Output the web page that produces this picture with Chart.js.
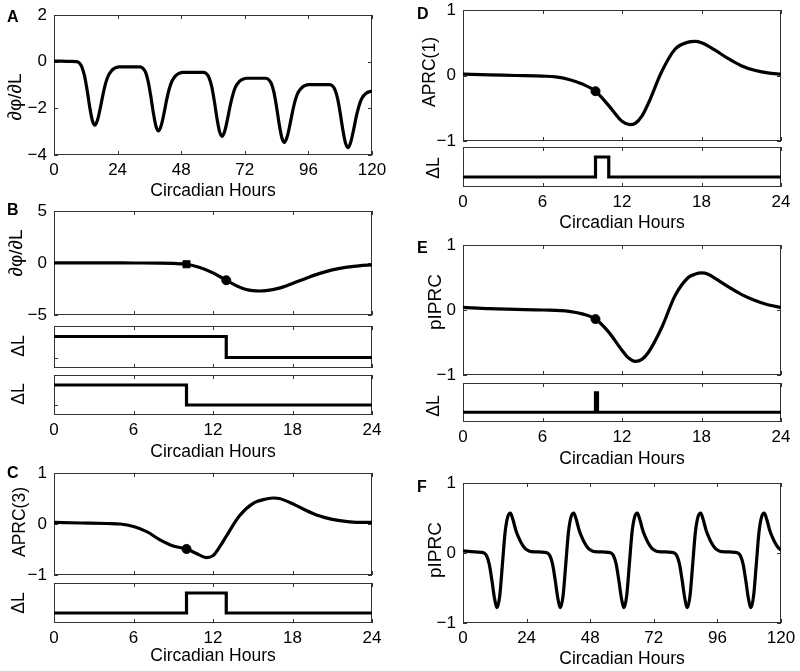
<!DOCTYPE html>
<html>
<head>
<meta charset="utf-8">
<script src="https://cdn.jsdelivr.net/npm/chart.js@4"></script>
<style>
  body { margin: 0; background: #fff; }
  #fig { position: relative; width: 800px; height: 671px; overflow: hidden; background: #fff; }
  #fig canvas { position: absolute; }
  .lbl { position: absolute; font-family: "Liberation Sans", Arial, Helvetica, sans-serif; color: #000; white-space: nowrap; line-height: 1; }
  .letter { font-weight: bold; font-size: 16px; }
  .xt { font-size: 17.5px; transform: translateX(-50%); }
  .yt { font-size: 17.5px; transform: translate(-50%, -50%) rotate(-90deg); }
  .big { font-size: 19px; }
</style>
</head>
<body>
<div id="fig"></div>
<script>
// ---- data ----
// A: dphi/dL over five circadian days
const aHours = [0, 3, 6, 8.5, 9.5, 10.5, 11.5, 12.5, 13.5, 14.5, 15.5, 16.5, 17.5, 18.5, 19.5, 20.5, 21.5, 22.5, 23.5, 24.5, 28.5, 32.5,
  33.5, 34.5, 35.5, 36.5, 37.5, 38.5, 39.5, 40.5, 41.5, 42.5, 43.5, 44.5, 45.5, 46.5, 47.5, 48.5, 52.5, 56.5,
  57.5, 58.5, 59.5, 60.5, 61.5, 62.5, 63.5, 64.5, 65.5, 66.5, 67.5, 68.5, 69.5, 70.5, 71.5, 72.5, 76, 80,
  81, 82, 83, 84, 85, 86, 87, 88, 89, 90, 91, 92, 93, 94, 95, 96, 100, 104,
  105, 106, 107, 108, 109, 110, 111, 112, 113, 114, 115, 116, 117, 118, 119, 120];
const aValues = [0.02, 0.02, 0.01, 0, -0.05, -0.22, -0.6, -1.22, -1.96, -2.53, -2.72, -2.47, -1.97, -1.4, -0.92, -0.6, -0.42, -0.31, -0.25, -0.22, -0.22, -0.22,
  -0.28, -0.44, -0.83, -1.46, -2.2, -2.78, -2.97, -2.72, -2.22, -1.64, -1.16, -0.84, -0.66, -0.55, -0.49, -0.46, -0.46, -0.46,
  -0.51, -0.68, -1.06, -1.69, -2.43, -3.01, -3.2, -2.95, -2.45, -1.88, -1.41, -1.08, -0.91, -0.8, -0.74, -0.71, -0.71, -0.71,
  -0.77, -0.93, -1.32, -1.95, -2.69, -3.27, -3.46, -3.21, -2.72, -2.15, -1.67, -1.35, -1.18, -1.07, -1.01, -0.98, -0.98, -0.98,
  -1.03, -1.2, -1.57, -2.2, -2.92, -3.49, -3.68, -3.44, -2.95, -2.39, -1.93, -1.61, -1.44, -1.34, -1.29, -1.26];

// B: dphi/dL over one day, with the two light steps below it
const bHours = [0, 2, 4, 6, 8, 9, 10, 11, 12, 13, 14, 14.5, 15, 15.5, 16, 17, 18, 19, 20, 21, 22, 23, 24];
const bValues = [0.01, 0.01, 0.01, 0, -0.01, -0.04, -0.12, -0.44, -0.95, -1.66, -2.32, -2.55, -2.66, -2.69, -2.66, -2.42, -1.97, -1.48, -1.02, -0.66, -0.42, -0.27, -0.18];
const bSquareHour = [10];
const bSquareValue = [-0.12];
const bDotHour = [13];
const bDotValue = [-1.66];
const b1Hours = [0, 13, 13, 24];
const b1Level = [1, 1, 0, 0];
const b2Hours = [0, 10, 10, 24];
const b2Level = [1, 1, 0, 0];

// C: APRC(3) and a 3 h pulse
const cHours = [0, 2, 4, 5, 6, 7, 8, 9, 10, 11, 11.5, 12, 12.5, 13, 14, 15, 16, 16.6, 17, 18, 19, 20, 21, 22, 23, 24];
const cValues = [0.03, 0.02, 0.01, 0, -0.05, -0.15, -0.31, -0.43, -0.49, -0.61, -0.66, -0.62, -0.45, -0.24, 0.16, 0.4, 0.49, 0.51, 0.5, 0.4, 0.27, 0.16, 0.09, 0.05, 0.03, 0.03];
const cDotHour = [10];
const cDotValue = [-0.49];
const c1Hours = [0, 10, 10, 13, 13, 24];
const c1Level = [0, 0, 1, 1, 0, 0];

// D: APRC(1) and a 1 h pulse
const dHours = [0, 2, 4, 6, 7, 8, 9, 10, 11, 12, 12.6, 13, 13.5, 14, 15, 16, 17, 17.5, 18, 19, 20, 21, 22, 23, 24];
const dValues = [0.02, 0.01, 0, -0.01, -0.02, -0.06, -0.13, -0.24, -0.46, -0.7, -0.75, -0.73, -0.62, -0.42, 0.06, 0.4, 0.51, 0.52, 0.5, 0.39, 0.26, 0.15, 0.08, 0.04, 0.02];
const dDotHour = [10];
const dDotValue = [-0.24];
const d1Hours = [0, 10, 10, 11, 11, 24];
const d1Level = [0, 0, 1, 1, 0, 0];

// E: pIPRC and an impulse
const eHours = [0, 2, 4, 6, 8, 9, 10, 11, 12, 12.5, 13, 13.5, 14, 15, 16, 17, 17.5, 18, 18.5, 19, 20, 21, 22, 23, 24];
const eValues = [0.04, 0.02, 0.01, 0, -0.02, -0.06, -0.14, -0.34, -0.62, -0.74, -0.79, -0.76, -0.65, -0.27, 0.22, 0.5, 0.55, 0.57, 0.55, 0.49, 0.36, 0.24, 0.15, 0.08, 0.04];
const eDotHour = [10];
const eDotValue = [-0.14];
const e1Hours = [0, 10, 10, 10.15, 10.15, 24];
const e1Level = [0, 0, 1, 1, 0, 0];

// F: pIPRC over five days
const fHours = [0, 3,
  6.9, 7.9, 8.9, 9.9, 10.9, 11.9, 12.9, 13.9, 14.9, 15.9, 16.9, 17.9, 18.9, 19.9, 20.9, 21.9, 22.9, 23.9, 24.9, 25.9,
  30.8, 31.8, 32.8, 33.8, 34.8, 35.8, 36.8, 37.8, 38.8, 39.8, 40.8, 41.8, 42.8, 43.8, 44.8, 45.8, 46.8, 47.8, 48.8, 49.8,
  54.8, 55.8, 56.8, 57.8, 58.8, 59.8, 60.8, 61.8, 62.8, 63.8, 64.8, 65.8, 66.8, 67.8, 68.8, 69.8, 70.8, 71.8, 72.8, 73.8,
  78.7, 79.7, 80.7, 81.7, 82.7, 83.7, 84.7, 85.7, 86.7, 87.7, 88.7, 89.7, 90.7, 91.7, 92.7, 93.7, 94.7, 95.7, 96.7, 97.7,
  102.7, 103.7, 104.7, 105.7, 106.7, 107.7, 108.7, 109.7, 110.7, 111.7, 112.7, 113.7, 114.7, 115.7, 116.7, 117.7, 118.7, 119.7, 120];
const fValues = [0.03, 0.02,
  0.01, 0, -0.04, -0.16, -0.39, -0.65, -0.78, -0.6, -0.15, 0.3, 0.52, 0.57, 0.47, 0.33, 0.23, 0.15, 0.09, 0.05, 0.03, 0.02,
  0.01, 0, -0.04, -0.16, -0.39, -0.65, -0.78, -0.6, -0.15, 0.3, 0.52, 0.57, 0.47, 0.33, 0.23, 0.15, 0.09, 0.05, 0.03, 0.02,
  0.01, 0, -0.04, -0.16, -0.39, -0.65, -0.78, -0.6, -0.15, 0.3, 0.52, 0.57, 0.47, 0.33, 0.23, 0.15, 0.09, 0.05, 0.03, 0.02,
  0.01, 0, -0.04, -0.16, -0.39, -0.65, -0.78, -0.6, -0.15, 0.3, 0.52, 0.57, 0.47, 0.33, 0.23, 0.15, 0.09, 0.05, 0.03, 0.02,
  0.01, 0, -0.04, -0.16, -0.39, -0.65, -0.78, -0.6, -0.15, 0.3, 0.52, 0.57, 0.47, 0.33, 0.23, 0.15, 0.09, 0.05, 0.045];

const dayTicks = 6;    // 0..24
const weekTicks = 24;  // 0..120

// ---- drawing ----
const fig = document.getElementById('fig');
const fontFamily = '"Liberation Sans", Arial, Helvetica, sans-serif';

function pts(xs, ys) { return xs.map((x, i) => ({ x: x, y: ys[i] })); }
function minusLabel(v) { return v < 0 ? '\u2212' + Math.abs(v) : String(v); }
function zeroPad(s) { s.paddingLeft = 0; s.paddingRight = 0; s.paddingTop = 0; s.paddingBottom = 0; }

// box round the plot and ticks pointing inwards, like the original
const matlabAxes = {
  id: 'matlabAxes',
  beforeDatasetsDraw(chart) {
    const { ctx, chartArea: a, scales } = chart;
    ctx.save();
    ctx.strokeStyle = '#333';
    ctx.lineWidth = 1;
    ctx.beginPath();
    scales.x.ticks.forEach(t => {
      const px = Math.round(scales.x.getPixelForValue(t.value)) + 0.5;
      ctx.moveTo(px, a.top); ctx.lineTo(px, a.top + 4);
      ctx.moveTo(px, a.bottom); ctx.lineTo(px, a.bottom - 4);
    });
    scales.y.ticks.forEach(t => {
      const py = Math.round(scales.y.getPixelForValue(t.value)) + 0.5;
      ctx.moveTo(a.left, py); ctx.lineTo(a.left + 4, py);
      ctx.moveTo(a.right, py); ctx.lineTo(a.right - 4, py);
    });
    ctx.stroke();
    ctx.strokeRect(a.left + 0.5, a.top + 0.5, a.right - a.left - 1, a.bottom - a.top - 1);
    ctx.restore();
  }
};

function curve(xs, ys) {
  return { data: pts(xs, ys), borderColor: '#000', borderWidth: 3.2, pointRadius: 0, cubicInterpolationMode: 'monotone', fill: false };
}
function steps(xs, ys) {
  return { data: pts(xs, ys), borderColor: '#000', borderWidth: 3.2, pointRadius: 0, tension: 0, fill: false };
}
function marker(xs, ys, style, r) {
  return { data: pts(xs, ys), showLine: false, pointStyle: style, pointRadius: r, pointBackgroundColor: '#000', pointBorderColor: '#000', pointBorderWidth: 1 };
}

// box = [left, top, right, bottom] of the plot area on the page
function axes(box, o) {
  const [l, t, r, b] = box;
  const cv = document.createElement('canvas');
  cv.width = r - l + 64;
  cv.height = b - t + 40;
  cv.style.left = (l - 50) + 'px';
  cv.style.top = (t - 10) + 'px';
  fig.appendChild(cv);
  const yOpts = {
    type: 'linear', min: o.ymin, max: o.ymax,
    grid: { display: false, drawTicks: false }, border: { display: false },
    afterFit: s => { s.width = 50; zeroPad(s); },
    ticks: { display: !o.stepOnly, stepSize: o.ystep, callback: minusLabel, padding: 7, color: '#000', font: { family: fontFamily, size: 17 } }
  };
  if (o.stepOnly) yOpts.afterBuildTicks = s => { s.ticks = [{ value: 0 }]; };
  new Chart(cv, {
    type: 'line',
    data: { datasets: o.datasets },
    options: {
      responsive: false, animation: false, devicePixelRatio: 1,
      layout: { padding: { left: 0, top: 10, right: 14, bottom: 0 } },
      plugins: { legend: { display: false }, tooltip: { enabled: false } },
      scales: {
        x: {
          type: 'linear', min: 0, max: o.xmax,
          grid: { display: false, drawTicks: false }, border: { display: false },
          afterFit: s => { s.height = 30; zeroPad(s); },
          ticks: { display: !!o.xlabels, stepSize: o.xstep, autoSkip: false, maxRotation: 0, padding: 5, color: '#000', font: { family: fontFamily, size: 17 } }
        },
        y: yOpts
      }
    },
    plugins: [matlabAxes]
  });
}

function text(str, cls, x, y) {
  const d = document.createElement('div');
  d.className = 'lbl ' + cls;
  d.textContent = str;
  d.style.left = x + 'px';
  d.style.top = y + 'px';
  fig.appendChild(d);
}

// left column
axes([54, 15, 372, 155], { xmax: 120, xstep: weekTicks, xlabels: true, ymin: -4, ymax: 2, ystep: 2,
  datasets: [curve(aHours, aValues)] });
axes([54, 211, 372, 315], { xmax: 24, xstep: dayTicks, ymin: -5, ymax: 5, ystep: 5,
  datasets: [curve(bHours, bValues), marker(bSquareHour, bSquareValue, 'rect', 5), marker(bDotHour, bDotValue, 'circle', 4.5)] });
axes([54, 326, 372, 368], { xmax: 24, xstep: dayTicks, ymin: -0.5, ymax: 1.5, stepOnly: true,
  datasets: [steps(b1Hours, b1Level)] });
axes([54, 375, 372, 415], { xmax: 24, xstep: dayTicks, xlabels: true, ymin: -0.5, ymax: 1.5, stepOnly: true,
  datasets: [steps(b2Hours, b2Level)] });
axes([54, 473, 372, 575], { xmax: 24, xstep: dayTicks, ymin: -1, ymax: 1, ystep: 1,
  datasets: [curve(cHours, cValues), marker(cDotHour, cDotValue, 'circle', 4.5)] });
axes([54, 583, 372, 623], { xmax: 24, xstep: dayTicks, xlabels: true, ymin: -0.5, ymax: 1.5, stepOnly: true,
  datasets: [steps(c1Hours, c1Level)] });

// right column
axes([463, 10, 781, 141], { xmax: 24, xstep: dayTicks, ymin: -1, ymax: 1, ystep: 1,
  datasets: [curve(dHours, dValues), marker(dDotHour, dDotValue, 'circle', 4.5)] });
axes([463, 147, 781, 187], { xmax: 24, xstep: dayTicks, xlabels: true, ymin: -0.5, ymax: 1.5, stepOnly: true,
  datasets: [steps(d1Hours, d1Level)] });
axes([463, 245, 781, 375], { xmax: 24, xstep: dayTicks, ymin: -1, ymax: 1, ystep: 1,
  datasets: [curve(eHours, eValues), marker(eDotHour, eDotValue, 'circle', 4.5)] });
axes([463, 383, 781, 422], { xmax: 24, xstep: dayTicks, xlabels: true, ymin: -0.5, ymax: 1.5, stepOnly: true,
  datasets: [steps(e1Hours, e1Level)] });
axes([463, 483, 781, 623], { xmax: 120, xstep: weekTicks, xlabels: true, ymin: -1, ymax: 1, ystep: 1,
  datasets: [curve(fHours, fValues)] });

// panel letters
text('A', 'letter', 7, 9);
text('B', 'letter', 7, 202);
text('C', 'letter', 7, 465);
text('D', 'letter', 417, 6);
text('E', 'letter', 417, 240);
text('F', 'letter', 417, 479);

// x titles (top = baseline - 14.8)
text('Circadian Hours', 'xt', 213, 182);
text('Circadian Hours', 'xt', 213, 443);
text('Circadian Hours', 'xt', 213, 647);
text('Circadian Hours', 'xt', 622, 214);
text('Circadian Hours', 'xt', 622, 450);
text('Circadian Hours', 'xt', 622, 650);

// y titles (centre points)
text('\u2202\u03c6/\u2202L', 'yt big', 14, 97);
text('\u2202\u03c6/\u2202L', 'yt big', 15, 253);
text('\u0394L', 'yt', 19, 346);
text('\u0394L', 'yt', 19, 394);
text('APRC(3)', 'yt', 20, 522);
text('\u0394L', 'yt', 19, 603);
text('APRC(1)', 'yt', 430, 72);
text('\u0394L', 'yt', 434, 168);
text('pIPRC', 'yt big', 434, 302);
text('\u0394L', 'yt', 434, 406);
text('pIPRC', 'yt big', 434, 550);
</script>
</body>
</html>
